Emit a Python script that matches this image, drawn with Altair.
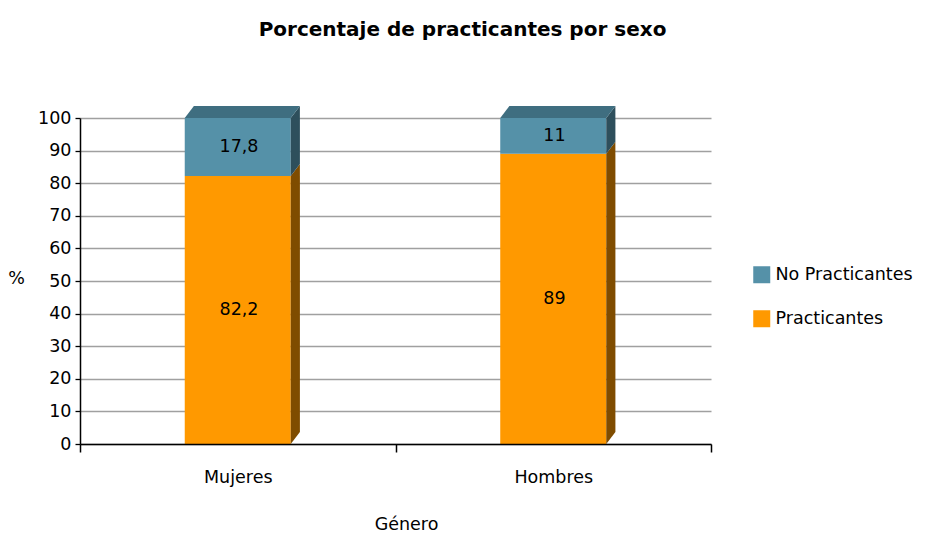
import altair as alt
import pandas as pd

# ---- data ----
categories = ["Mujeres", "Hombres"]
series = ["Practicantes", "No Practicantes"]
practicantes = [82.2, 89]
no_practicantes = [17.8, 11]

# ---- style ----
FRONT = {"Practicantes": "#FF9900", "No Practicantes": "#5591A8"}
SIDE = {"Practicantes": "#7F4C00", "No Practicantes": "#2E4F5C"}
TOP = {"Practicantes": "#B36B00", "No Practicantes": "#3F6E80"}
HALF = 0.168     # half bar width, in category units
DX = 0.029       # 3-D depth, x (category units)
DY = 3.7         # 3-D depth, y (value units)
FONT = "DejaVu Sans"
FS = 17.5


def fmt(v):
    return f"{v:g}".replace(".", ",")


front_rows, side_rows, top_rows = [], [], []
for i, cat in enumerate(categories):
    c = i + 0.5
    x0, x1 = c - HALF, c + HALF
    base = 0.0
    vals = [practicantes[i], no_practicantes[i]]
    for s, v in zip(series, vals):
        lo, hi = base, base + v
        front_rows.append(dict(cat=cat, serie=s, x0=x0, x1=x1, lo=lo, hi=hi,
                               mid=(lo + hi) / 2, xc=c + 0.004, label=fmt(v)))
        key = f"{cat}-{s}"
        side_rows.append(dict(key=key, x=x1, lo=lo, hi=hi, fill=SIDE[s]))
        side_rows.append(dict(key=key, x=x1 + DX, lo=lo + DY, hi=hi + DY, fill=SIDE[s]))
        base = hi
    top_s = series[-1]
    top_rows.append(dict(key=cat, y=base, xa=x0, xb=x1, fill=TOP[top_s]))
    top_rows.append(dict(key=cat, y=base + DY, xa=x0 + DX, xb=x1 + DX, fill=TOP[top_s]))

front = pd.DataFrame(front_rows)
side = pd.DataFrame(side_rows)
top = pd.DataFrame(top_rows)

xscale = alt.Scale(domain=[0, len(categories)], nice=False, zero=False)
yscale = alt.Scale(domain=[0, 100], nice=False)

label_expr = " : ".join(
    [f"datum.value == {i + 0.5} ? '{c}'" for i, c in enumerate(categories)]
) + " : ''"
xvals = [i * 0.5 for i in range(2 * len(categories) + 1)]

x_axis = alt.Axis(
    values=xvals, labelExpr=label_expr, title="Género",
    grid=False, domainColor="black", domainWidth=1.5,
    tickColor="black", tickWidth=1.5, tickSize=8,
    tickOpacity={"condition": {"test": "datum.value % 1 == 0", "value": 1}, "value": 0},
    labelPadding=16, labelFont=FONT, labelFontSize=FS, labelColor="black",
    labelFlush=False, labelOverlap=False,
    titleFont=FONT, titleFontSize=FS, titleFontWeight="normal", titleColor="black",
    titleX=326, titleY=80, titleBaseline="middle", titleAlign="center",
    zindex=1,
)
y_axis = alt.Axis(
    values=list(range(0, 101, 10)), title="%",
    grid=True, gridColor="#A0A0A0", gridWidth=1.3,
    domainColor="black", domainWidth=1.5, tickColor="black", tickWidth=1.3, tickSize=5,
    labelPadding=4, labelFont=FONT, labelFontSize=FS, labelColor="black",
    titleFont=FONT, titleFontSize=FS, titleFontWeight="normal", titleColor="black",
    titleAngle=0, titleX=-64, titleY=160, titleAlign="center", titleBaseline="middle",
)

bars = alt.Chart(front).mark_bar(strokeWidth=0).encode(
    x=alt.X("x0:Q", scale=xscale, axis=x_axis),
    x2="x1:Q",
    y=alt.Y("lo:Q", scale=yscale, axis=y_axis, stack=None),
    y2="hi:Q",
    color=alt.Color(
        "serie:N",
        scale=alt.Scale(domain=["No Practicantes", "Practicantes"],
                        range=[FRONT["No Practicantes"], FRONT["Practicantes"]]),
        legend=alt.Legend(
            title=None, orient="none", legendX=673, legendY=148,
            symbolType="square", symbolSize=289, symbolStrokeWidth=0,
            labelFont=FONT, labelFontSize=FS, labelColor="black",
            labelOffset=5, rowPadding=25,
        ),
    ),
)

sides = alt.Chart(side).mark_area(orient="vertical").encode(
    x=alt.X("x:Q", scale=xscale, axis=x_axis),
    y=alt.Y("lo:Q", scale=yscale, axis=y_axis, stack=None),
    y2="hi:Q",
    detail="key:N",
    fill=alt.Fill("fill:N", scale=None),
)

tops = alt.Chart(top).mark_area(orient="horizontal").encode(
    y=alt.Y("y:Q", scale=yscale, axis=y_axis),
    x=alt.X("xa:Q", scale=xscale, axis=x_axis, stack=None),
    x2="xb:Q",
    detail="key:N",
    fill=alt.Fill("fill:N", scale=None),
)

texts = alt.Chart(front).mark_text(font=FONT, fontSize=FS, color="black", baseline="middle").encode(
    x=alt.X("xc:Q", scale=xscale, axis=x_axis),
    y=alt.Y("mid:Q", scale=yscale, axis=y_axis),
    text="label:N",
)

chart = alt.layer(bars, sides, tops, texts).properties(
    width=631, height=326,
    background="white",
    autosize=alt.AutoSizeParams(type="none"),
    padding={"left": 72, "top": 110, "right": 217, "bottom": 89},
    title=alt.TitleParams(
        "Porcentaje de practicantes por sexo", font=FONT, fontSize=20,
        fontWeight="bold", color="black", anchor="middle", dx=67, offset=66,
    ),
).configure_view(stroke=None)

chart.save("out.html", embed_options={"renderer": "svg", "actions": False})
